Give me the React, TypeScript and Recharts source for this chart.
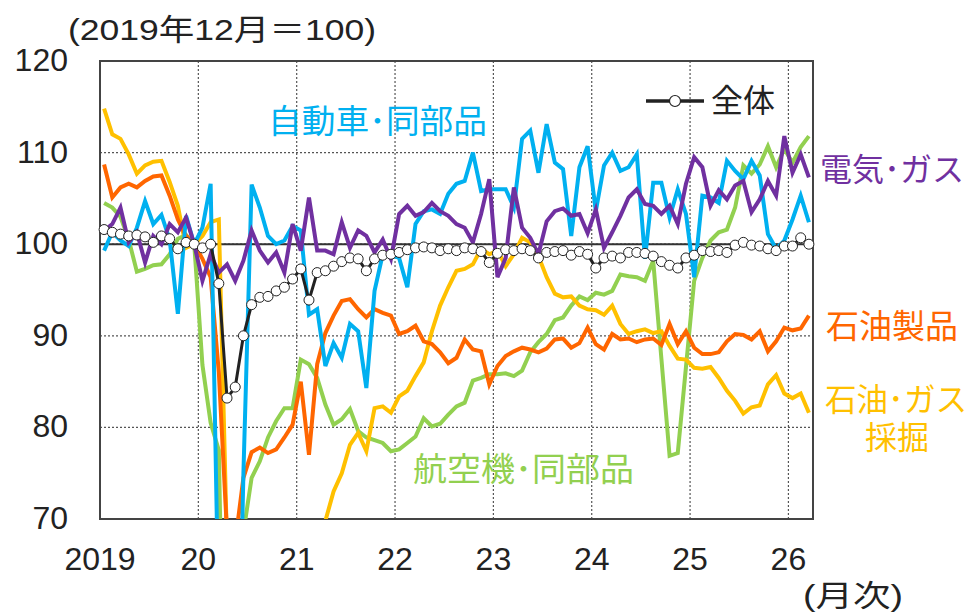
import React from "react";
import {
  CartesianGrid,
  Line,
  LineChart,
  ReferenceArea,
  ReferenceLine,
  XAxis,
  YAxis,
} from "recharts";

// 月次, 2019年1月〜2026年3月 (2019年12月=100)
const YEAR_TICKS = [0, 12, 24, 36, 48, 60, 72, 84];
const YEAR_LABELS = ["2019", "20", "21", "22", "23", "24", "25", "26"];
const Y_TICKS = [70, 80, 90, 100, 110, 120];

const TOTAL = [
  101.6, 101.3, 101.1, 100.9, 101.0, 100.8, 100.2, 100.9, 100.6, 99.5, 100.2, 100.0,
  99.6, 100.0, 95.7, 83.2, 84.4, 90.0, 93.4, 94.2, 94.3, 94.9, 95.3, 96.2,
  97.3, 93.9, 96.9, 97.1, 97.6, 98.1, 98.5, 98.4, 97.1, 98.4, 98.8, 98.9,
  99.1, 99.4, 99.6, 99.7, 99.6, 99.3, 99.5, 99.3, 99.6, 99.5, 99.2, 98.0,
  99.0, 99.4, 99.3, 99.5, 99.3, 98.5, 99.1, 99.2, 99.3, 98.8, 99.2, 98.9,
  97.4, 98.5, 98.7, 98.5, 99.1, 99.1, 99.0, 98.7, 98.1, 97.7, 97.4, 98.5,
  98.8, 99.3, 99.2, 99.3, 99.1, 99.9, 100.2, 99.9, 99.8, 99.5, 99.3, 99.8,
  99.8, 100.7, 100.0,
];

const AUTOS = [
  99.3, 101.3, 100.4, 99.8, 101.8, 104.7, 102.2, 103.2, 100.5, 92.4, 103.1, 100.0,
  101.8, 106.6, 58, 20, 35, 75, 106.5, 104.0, 100.9, 100.0, 100.4, 102.0,
  101.5, 92.3, 92.9, 86.7, 89.2, 87.6, 91.3, 90.5, 84.3, 94.9, 98.9, 98.8,
  98.5, 95.3, 102.2, 103.6, 103.8, 103.3, 105.5, 106.6, 106.9, 110.0, 105.8, 106.0,
  106.0, 106.0, 104.0, 111.5, 112.4, 107.8, 113.1, 108.9, 108.2, 100.9, 108.4, 110.7,
  103.6, 108.6, 110.0, 108.0, 108.4, 109.8, 98.4, 106.7, 106.7, 102.9, 106.0, 103.3,
  96.4, 105.3, 105.1, 104.5, 109.1, 108.0, 107.1, 109.1, 107.5, 101.1, 99.5, 100.4,
  102.7, 105.3, 102.4,
];

const UTILITIES = [
  101.5, 102.2, 104.0, 100.2, 101.3, 98.0, 100.9, 100.0, 102.2, 101.3, 102.9, 100.0,
  96.0, 98.9, 96.9, 97.8, 96.0, 98.2, 101.5, 99.3, 98.0, 99.1, 96.9, 102.2,
  99.3, 105.1, 99.3, 99.3, 98.9, 102.4, 99.6, 101.5, 100.9, 99.1, 100.5, 98.4,
  103.3, 104.2, 103.1, 103.5, 104.5, 103.6, 103.1, 102.2, 101.8, 100.2, 103.3, 107.1,
  96.4, 98.5, 106.2, 101.8, 100.7, 98.9, 102.5, 103.6, 103.9, 103.1, 103.3, 101.2,
  103.8, 99.6, 101.3, 103.1, 105.1, 106.0, 104.4, 104.2, 103.3, 104.2, 102.2, 106.6,
  109.5, 108.4, 104.2, 105.9, 104.9, 106.4, 106.9, 103.5, 104.9, 106.9, 105.3, 111.8,
  107.8, 109.8, 107.3,
];

const AEROSPACE = [
  104.5, 104.0, 103.0, 100.5, 97.0, 97.3, 97.7, 97.8, 98.9, 100.6, 101.0, 100.0,
  86.8, 80.5, 77.5, 30, 35, 68.5, 74.5, 76.3, 78.9, 80.7, 82.1, 82.1,
  87.4, 86.9, 85.4, 82.5, 80.3, 80.9, 82.0, 79.6, 78.9, 78.6, 78.3, 77.4,
  77.6, 78.3, 79.0, 81.0, 80.1, 80.4, 81.4, 82.3, 82.7, 85.1, 85.4, 85.8,
  85.8, 85.9, 85.6, 86.2, 88.2, 89.3, 90.2, 91.7, 92.0, 93.3, 94.3, 93.9,
  94.7, 94.5, 94.9, 96.7, 96.5, 96.4, 96.0, 98.2, 87.5, 76.9, 77.2, 86.6,
  96.0, 98.5, 100.4, 101.3, 101.6, 104.0, 108.6, 107.7, 108.7, 110.7, 108.4, 110.4,
  108.9, 110.6, 111.8,
];

const PETROLEUM = [
  108.7, 105.1, 106.2, 106.6, 106.2, 106.9, 107.4, 107.5, 105.3, 102.7, 100.9, 100.0,
  98.4, 96.4, 86.0, 68.5, 67.5, 74.5, 77.3, 77.8, 77.2, 77.6, 78.9, 80.3,
  85.0, 77.0, 86.9, 90.3, 92.2, 93.8, 94.0, 92.9, 92.0, 92.9, 92.5, 92.2,
  90.2, 90.5, 91.1, 89.4, 89.1, 88.2, 87.0, 87.6, 89.6, 88.5, 88.3, 84.7,
  86.7, 87.8, 88.3, 88.7, 88.5, 88.2, 88.6, 89.6, 89.7, 88.7, 89.2, 90.9,
  89.1, 88.5, 90.2, 89.6, 89.7, 89.3, 89.6, 89.7, 89.0, 91.3, 89.1, 90.5,
  88.7, 88.0, 88.0, 88.2, 89.4, 90.2, 90.1, 89.6, 90.5, 88.3, 89.4, 90.9,
  90.6, 90.8, 92.2,
];

const OIL_GAS = [
  114.8, 112.0, 111.5, 109.8, 107.7, 108.6, 109.0, 109.1, 106.8, 104.2, 99.6, 100.0,
  100.9, 102.4, 102.7, 67, 50, 35, 32, 30, 32, 35, 38, 42,
  46, 48, 55, 69.8, 73.0, 75.0, 78.1, 79.4, 77.4, 82.1, 82.3, 81.6,
  83.4, 84.0, 85.6, 87.1, 90.5, 93.3, 95.3, 97.1, 97.3, 97.8, 99.5, 98.9,
  99.3, 97.6, 98.9, 100.7, 100.2, 98.7, 96.4, 94.6, 94.2, 94.3, 93.3, 92.9,
  92.8, 92.3, 93.3, 91.3, 90.2, 90.5, 90.7, 90.3, 90.5, 88.9, 87.5, 87.4,
  86.5, 86.4, 86.6, 85.4, 84.0, 82.9, 81.5, 82.2, 82.4, 84.7, 85.7, 83.7,
  83.2, 83.7, 81.6,
];

const MONTHS = TOTAL.map(
  (_, i) => `${2019 + Math.floor(i / 12)}-${String((i % 12) + 1).padStart(2, "0")}`
);

// month i sits in the middle of its slot, year gridlines fall on slot edges
const rows = MONTHS.map((month, i) => ({
  month,
  t: i + 0.5,
  total: TOTAL[i],
  autos: AUTOS[i],
  utilities: UTILITIES[i],
  aerospace: AEROSPACE[i],
  petroleum: PETROLEUM[i],
  oilGas: OIL_GAS[i],
}));

const NUM_FONT = "'Liberation Sans', Arial, sans-serif";
const JP_FONT = "'Noto Sans CJK JP', 'Noto Sans', sans-serif";
const MIXED_FONT = "'Liberation Sans', 'Noto Sans CJK JP', sans-serif";
const INK = "#222";

const COLORS = {
  autos: "#00b0f0",
  utilities: "#7030a0",
  aerospace: "#92d050",
  petroleum: "#ff6600",
  oilGas: "#ffc000",
};

function YearTick(props: any) {
  const { x, payload } = props;
  const label = YEAR_LABELS[YEAR_TICKS.indexOf(payload.value)];
  return (
    <text x={x} y={570} textAnchor="middle" fontSize={32} fontFamily={NUM_FONT} fill={INK}>
      {label}
    </text>
  );
}

function ValueTick(props: any) {
  const { y, payload } = props;
  return (
    <text x={68} y={y + 10} textAnchor="end" fontSize={32} fontFamily={NUM_FONT} fill={INK}>
      {payload.value}
    </text>
  );
}

function Label(props: { x: number; y: number; w: number; size?: number; color: string; children: string; font?: string }) {
  const { x, y, w, size = 32, color, children, font = JP_FONT } = props;
  return (
    <text
      x={x}
      y={y}
      fontSize={size}
      fontFamily={font}
      fill={color}
      textLength={w}
      lengthAdjust="spacingAndGlyphs"
    >
      {children}
    </text>
  );
}

export default function App() {
  return (
    <div style={{ position: "absolute", left: 0, top: 0, width: 971, height: 613, background: "#fff" }}>
      <LineChart
        width={971}
        height={613}
        data={rows}
        margin={{ top: 61, right: 158, bottom: 64, left: 40 }}
      >
        <CartesianGrid stroke="#555" strokeDasharray="2 2" strokeWidth={1.2} />
        <XAxis
          dataKey="t"
          type="number"
          domain={[0, 87]}
          ticks={YEAR_TICKS}
          tick={<YearTick />}
          axisLine={false}
          tickLine={false}
          height={30}
        />
        <YAxis
          type="number"
          domain={[70, 120]}
          ticks={Y_TICKS}
          allowDataOverflow
          tick={<ValueTick />}
          axisLine={false}
          tickLine={false}
          width={60}
        />
        <ReferenceLine y={100} stroke="#333" strokeWidth={2} />
        <Line dataKey="aerospace" stroke={COLORS.aerospace} strokeWidth={4} dot={false} isAnimationActive={false} />
        <Line dataKey="oilGas" stroke={COLORS.oilGas} strokeWidth={4} dot={false} isAnimationActive={false} />
        <Line dataKey="petroleum" stroke={COLORS.petroleum} strokeWidth={4} dot={false} isAnimationActive={false} />
        <Line dataKey="autos" stroke={COLORS.autos} strokeWidth={4} dot={false} isAnimationActive={false} />
        <Line dataKey="utilities" stroke={COLORS.utilities} strokeWidth={4} dot={false} isAnimationActive={false} />
        <Line
          dataKey="total"
          stroke={INK}
          strokeWidth={3}
          dot={{ r: 5, fill: "#fff", stroke: INK, strokeWidth: 1 }}
          isAnimationActive={false}
        />
        <ReferenceArea x1={0} x2={87} y1={70} y2={120} fill="none" stroke="#444" strokeWidth={2} />
      </LineChart>

      <svg
        width={971}
        height={613}
        style={{ position: "absolute", left: 0, top: 0, pointerEvents: "none" }}
      >
        <Label x={68} y={40} w={308} size={30} color={INK} font={MIXED_FONT}>
          (2019年12月＝100)
        </Label>
        <Label x={803} y={606} w={100} size={30} color={INK} font={MIXED_FONT}>(月次)</Label>

        <line x1={646} x2={704} y1={101} y2={101} stroke={INK} strokeWidth={3.5} />
        <circle cx={675} cy={101} r={5.5} fill="#fff" stroke={INK} strokeWidth={1.2} />
        <Label x={711} y={112} w={64} color={INK}>全体</Label>

        <Label x={268} y={133} w={219} size={33} color={COLORS.autos}>自動車･同部品</Label>
        <Label x={820} y={181} w={144} color={COLORS.utilities}>電気･ガス</Label>
        <Label x={826} y={338} w={132} size={33} color={COLORS.petroleum}>石油製品</Label>
        <Label x={825} y={411} w={142} color={COLORS.oilGas}>石油･ガス</Label>
        <Label x={865} y={449} w={64} color={COLORS.oilGas}>採掘</Label>
        <Label x={413} y={481} w={221} size={33} color={COLORS.aerospace}>航空機･同部品</Label>
      </svg>
    </div>
  );
}
